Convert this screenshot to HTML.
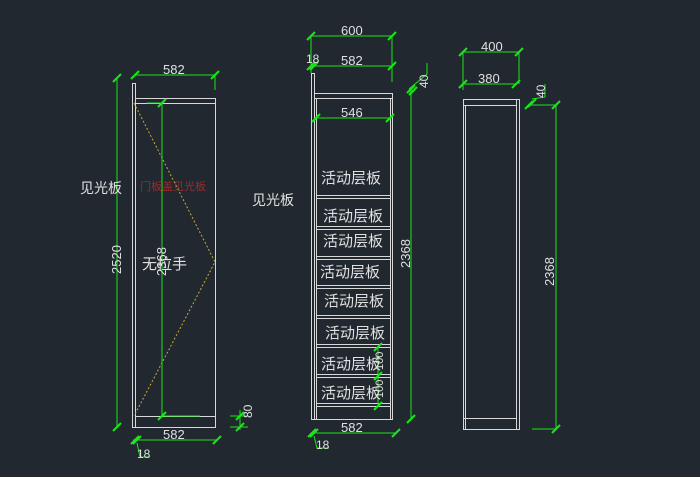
<!DOCTYPE html>
<html><head><meta charset="utf-8"><style>
html,body{margin:0;padding:0;background:#212830;}
svg{display:block}
text{font-family:"Liberation Sans","Noto Sans CJK SC",sans-serif;}
</style></head><body>
<svg width="700" height="477" viewBox="0 0 700 477" xmlns="http://www.w3.org/2000/svg">
<rect width="700" height="477" fill="#212830"/>
<defs>
<g id="tk"><line x1="-4" y1="4" x2="4" y2="-4" stroke="#19e619" stroke-width="2"/></g>
</defs>
<g fill="none" stroke="#d8d8d8" stroke-width="1">
<!-- left view -->
<rect x="132.5" y="83.5" width="3" height="344"/>
<rect x="135.5" y="98.5" width="80" height="329"/>
<line x1="135.5" y1="103.5" x2="215.5" y2="103.5"/>
<line x1="135.5" y1="416.5" x2="215.5" y2="416.5"/>
<!-- middle view -->
<rect x="311.5" y="73.5" width="3" height="346"/>
<rect x="314.5" y="93.5" width="78" height="5"/>
<rect x="314.5" y="98.5" width="78" height="321"/>
<line x1="316.5" y1="98.5" x2="316.5" y2="419.5"/>
<line x1="390.5" y1="98.5" x2="390.5" y2="419.5"/>
<g>
<rect x="316.5" y="195.5" width="74" height="3"/>
<rect x="316.5" y="226.5" width="74" height="3"/>
<rect x="316.5" y="256.5" width="74" height="3"/>
<rect x="316.5" y="285.5" width="74" height="3"/>
<rect x="316.5" y="315.5" width="74" height="3"/>
<rect x="316.5" y="344.5" width="74" height="3"/>
<rect x="316.5" y="374.5" width="74" height="3"/>
<rect x="316.5" y="403.5" width="74" height="3"/>
</g>
<!-- right view -->
<rect x="463.5" y="99.5" width="56" height="330"/>
<line x1="465.5" y1="105.5" x2="465.5" y2="429.5"/>
<line x1="516.5" y1="99.5" x2="516.5" y2="429.5"/>
<line x1="463.5" y1="105.5" x2="516.5" y2="105.5"/>
<line x1="463.5" y1="418.5" x2="516.5" y2="418.5"/>
</g>
<!-- dashed door swing -->
<polyline points="134,103 215,262 134,416" fill="none" stroke="#c9a83a" stroke-width="1" stroke-dasharray="2,2"/>
<g stroke="#19e619" stroke-width="1" fill="none">
<!-- left dims -->
<line x1="135" y1="75" x2="215" y2="75"/><line x1="215" y1="75" x2="215" y2="90"/>
<line x1="117" y1="78" x2="117" y2="427"/>
<line x1="162" y1="103" x2="162" y2="416"/><line x1="147" y1="103" x2="162" y2="103"/><line x1="162" y1="416" x2="200" y2="416"/>
<line x1="133" y1="440" x2="217" y2="440"/><polyline points="137,443 140,457 150,457"/>
<line x1="230" y1="416" x2="248" y2="416"/><line x1="230" y1="427" x2="248" y2="427"/><line x1="240" y1="410" x2="240" y2="430"/>
<!-- middle dims -->
<line x1="311" y1="36" x2="392" y2="36"/><line x1="311" y1="36" x2="311" y2="73"/><line x1="392" y1="36" x2="392" y2="82"/>
<line x1="311" y1="66" x2="392" y2="66"/>
<line x1="316" y1="118" x2="390" y2="118"/>
<line x1="411" y1="89" x2="411" y2="419"/><polyline points="409,89 427,74 427,63"/>
<line x1="311" y1="433" x2="396" y2="433"/><polyline points="314,436 317,448 329,448"/>
<line x1="378" y1="347" x2="378" y2="406"/>
<!-- right dims -->
<line x1="463" y1="52" x2="519" y2="52"/><line x1="463" y1="52" x2="463" y2="90"/><line x1="519" y1="52" x2="519" y2="84"/>
<line x1="463" y1="84" x2="516" y2="84"/>
<line x1="556" y1="105" x2="556" y2="429"/><line x1="529" y1="105" x2="556" y2="105"/><line x1="532" y1="429" x2="556" y2="429"/>
<polyline points="532,99 545,97 545,84"/>
</g>
<g>
<use href="#tk" x="135" y="75"/><use href="#tk" x="215" y="75"/>
<use href="#tk" x="117" y="78"/><use href="#tk" x="117" y="427"/>
<use href="#tk" x="162" y="103"/><use href="#tk" x="162" y="416"/>
<use href="#tk" x="135" y="440"/><use href="#tk" x="137" y="440"/><use href="#tk" x="217" y="440"/>
<use href="#tk" x="240" y="416"/><use href="#tk" x="240" y="427"/>
<use href="#tk" x="311" y="36"/><use href="#tk" x="392" y="36"/>
<use href="#tk" x="311" y="66"/><use href="#tk" x="314" y="66"/><use href="#tk" x="392" y="66"/>
<use href="#tk" x="316" y="118"/><use href="#tk" x="390" y="118"/>
<use href="#tk" x="411" y="89"/><use href="#tk" x="413" y="91"/><use href="#tk" x="411" y="419"/>
<use href="#tk" x="312" y="433"/><use href="#tk" x="314" y="433"/><use href="#tk" x="396" y="433"/>
<use href="#tk" x="378" y="347"/><use href="#tk" x="378" y="376"/><use href="#tk" x="378" y="406"/>
<use href="#tk" x="463" y="52"/><use href="#tk" x="519" y="52"/>
<use href="#tk" x="463" y="84"/><use href="#tk" x="516" y="84"/>
<use href="#tk" x="529" y="105"/><use href="#tk" x="532" y="103"/><use href="#tk" x="556" y="105"/><use href="#tk" x="556" y="429"/>
</g>
<g fill="#e0e0e0" font-size="13">
<text x="163" y="74">582</text>
<text x="163" y="439">582</text>
<text x="137" y="458" font-size="12">18</text>
<text x="0" y="0" transform="translate(252,418) rotate(-90)" font-size="12">80</text>
<text x="0" y="0" transform="translate(121,274) rotate(-90)">2520</text>
<text x="0" y="0" transform="translate(166,276) rotate(-90)">2368</text>
<text x="80" y="193" font-size="14">见光板</text>
<text x="142" y="269" font-size="15">无拉手</text>
<text x="140" y="190" font-size="11" fill="#9e2a2a">门板盖见光板</text>
<text x="341" y="35">600</text>
<text x="341" y="65">582</text>
<text x="306" y="63" font-size="12">18</text>
<text x="341" y="117">546</text>
<text x="341" y="432">582</text>
<text x="316" y="449" font-size="12">18</text>
<text x="0" y="0" transform="translate(410,268) rotate(-90)">2368</text>
<text x="0" y="0" transform="translate(428,88) rotate(-90)" font-size="12">40</text>
<text x="0" y="0" transform="translate(383,370) rotate(-90)" font-size="11">100</text>
<text x="0" y="0" transform="translate(383,398) rotate(-90)" font-size="11">100</text>
<text x="252" y="205" font-size="14">见光板</text>
<g font-size="15">
<text x="321" y="183">活动层板</text>
<text x="323" y="221">活动层板</text>
<text x="323" y="246">活动层板</text>
<text x="320" y="277">活动层板</text>
<text x="324" y="306">活动层板</text>
<text x="325" y="338">活动层板</text>
<text x="321" y="369">活动层板</text>
<text x="321" y="398">活动层板</text>
</g>
<text x="481" y="51">400</text>
<text x="478" y="83">380</text>
<text x="0" y="0" transform="translate(554,286) rotate(-90)">2368</text>
<text x="0" y="0" transform="translate(545,98) rotate(-90)" font-size="12">40</text>
</g>
</svg>
</body></html>
